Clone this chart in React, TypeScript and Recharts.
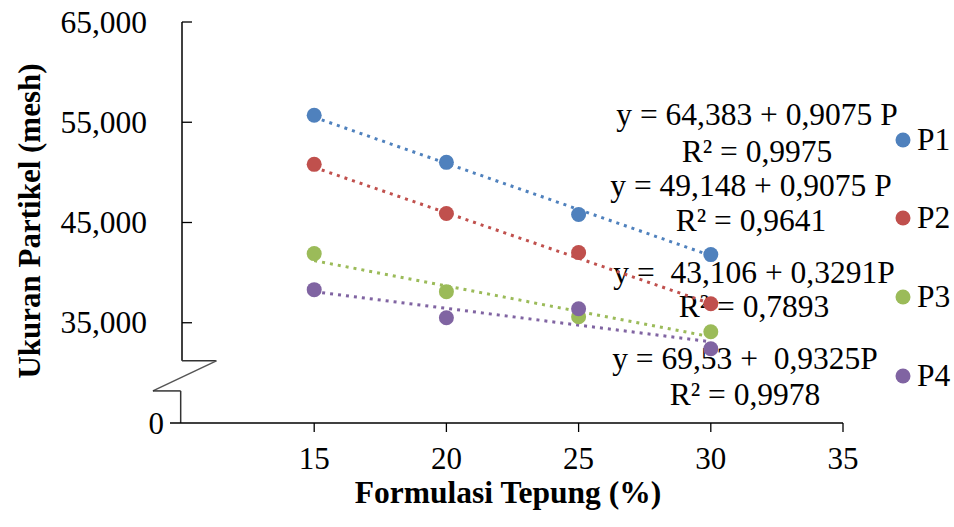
import {
  ComposedChart,
  Scatter,
  Line,
  XAxis,
  YAxis,
  ReferenceLine,
  Customized,
} from 'recharts';

// formulasi tepung (%)
const formulasi = [15, 20, 25, 30];
const p1 = [55.7, 51.0, 45.8, 41.8];
const p2 = [50.8, 45.9, 42.0, 36.9];
const p3 = [41.9, 38.1, 35.6, 34.1];
const p4 = [38.3, 35.5, 36.4, 32.4];

// trendline ends (at 15 and 30)
const trendX = [15, 30];
const t1 = [55.5, 41.7];
const t2 = [50.5, 36.9];
const t3 = [41.2, 33.6];
const t4 = [38.1, 33.1];

const xTicks = [15, 20, 25, 30, 35];
// broken axis: the floor 25 is shown as 0
const yBase = 25;
const yTicks = [25, 35, 45, 55, 65];

const seriesNames = ['P1', 'P2', 'P3', 'P4'];
const equations = [
  ['y = 64,383 + 0,9075 P', 'R² = 0,9975'],
  ['y = 49,148 + 0,9075 P', 'R² = 0,9641'],
  ['y =  43,106 + 0,3291P', 'R² = 0,7893'],
  ['y = 69,53 +  0,9325P', 'R² = 0,9978'],
];

const colors = ['#4F81BD', '#C0504D', '#9BBB59', '#8064A2'];
const FONT = '"Liberation Serif", "Times New Roman", serif';

const toPts = (ys: number[], xs: number[]) => ys.map((y, i) => ({ x: xs[i], y }));
const points = [p1, p2, p3, p4].map((s) => toPts(s, formulasi));
const trends = [t1, t2, t3, t4].map((s) => toPts(s, trendX));

const fmtY = (v: number) => (v === yBase ? '0' : v.toFixed(3).replace('.', ','));

function YTick(props: any) {
  const { x, y, payload } = props;
  const v = payload.value;
  if (v === yBase) {
    return (
      <g>
        <line x1={x - 12} x2={x} y1={y} y2={y} stroke="#000" strokeWidth={1.5} />
        <text x={x - 18} y={y} dy="0.34em" textAnchor="end" fontFamily={FONT} fontSize={31} fill="#000">
          {fmtY(v)}
        </text>
      </g>
    );
  }
  return (
    <g>
      <line x1={x} x2={x + 10} y1={y} y2={y} stroke="#000" strokeWidth={1.3} />
      <text x={x - 35} y={y} dy="0.34em" textAnchor="end" fontFamily={FONT} fontSize={31.5} fill="#000">
        {fmtY(v)}
      </text>
    </g>
  );
}

const eqX = [757, 751, 754, 745];
const eqY = [
  [125, 162],
  [196, 231],
  [283, 317],
  [369, 405],
];
const legY = [140, 218, 297, 376];

function Annotations() {
  return (
    <g fontFamily={FONT} fill="#000">
      {equations.map((lines, i) =>
        lines.map((t, j) => (
          <text
            key={`${i}-${j}`}
            x={eqX[i]}
            y={eqY[i][j]}
            textAnchor="middle"
            fontSize={31.5}
            style={{ whiteSpace: 'pre' }}
          >
            {t}
          </text>
        ))
      )}
      {seriesNames.map((n, i) => (
        <g key={n}>
          <circle cx={903} cy={legY[i]} r={7.5} fill={colors[i]} />
          <text x={917} y={legY[i] + 10} fontSize={31.5}>
            {n}
          </text>
        </g>
      ))}
      <text x={508} y={503} textAnchor="middle" fontSize={31.5} fontWeight="bold">
        Formulasi Tepung (%)
      </text>
      <text
        x={40}
        y={221}
        textAnchor="middle"
        fontSize={31}
        fontWeight="bold"
        transform="rotate(-90, 40, 221)"
      >
        Ukuran Partikel (mesh)
      </text>
    </g>
  );
}

export default function App() {
  return (
    <div style={{ position: 'absolute', left: 0, top: 0, background: '#fff' }}>
      <ComposedChart width={954} height={527} margin={{ top: 22, right: 111, bottom: 0, left: 0 }}>
        <XAxis
          type="number"
          dataKey="x"
          domain={[10, 35]}
          ticks={xTicks}
          height={104}
          tickSize={9}
          tickMargin={15}
          axisLine={{ stroke: '#000', strokeWidth: 1.5 }}
          tickLine={{ stroke: '#000', strokeWidth: 1.3 }}
          tick={{ fill: '#000', fontSize: 31, fontFamily: FONT }}
          allowDataOverflow
        />
        <YAxis
          type="number"
          dataKey="y"
          domain={[yBase, 65]}
          ticks={yTicks}
          width={182}
          tickSize={0}
          tickMargin={0}
          axisLine={false}
          tickLine={false}
          tick={YTick}
          allowDataOverflow
        />
        {/* y axis line and the break mark */}
        <ReferenceLine segment={[{ x: 10, y: 65 }, { x: 10, y: 31.2 }]} stroke="#000" strokeWidth={1.5} ifOverflow="visible" />
        <ReferenceLine segment={[{ x: 10, y: 31.2 }, { x: 11.3, y: 31.2 }]} stroke="#333" strokeWidth={1.5} ifOverflow="visible" />
        <ReferenceLine segment={[{ x: 11.3, y: 31.2 }, { x: 8.9, y: 28.2 }]} stroke="#555" strokeWidth={1.5} ifOverflow="visible" />
        <ReferenceLine segment={[{ x: 8.9, y: 28.2 }, { x: 9.95, y: 28.2 }]} stroke="#333" strokeWidth={1.5} ifOverflow="visible" />
        <ReferenceLine segment={[{ x: 9.95, y: 28.2 }, { x: 9.95, y: 25 }]} stroke="#333" strokeWidth={1.5} ifOverflow="visible" />
        {trends.map((d, i) => (
          <Line
            key={`t${i}`}
            data={d}
            dataKey="y"
            type="linear"
            stroke={colors[i]}
            strokeWidth={3}
            strokeDasharray="3 5"
            dot={false}
            activeDot={false}
            legendType="none"
            isAnimationActive={false}
          />
        ))}
        {points.map((d, i) => (
          <Scatter
            key={`s${i}`}
            name={seriesNames[i]}
            data={d}
            fill={colors[i]}
            shape={(p: any) => <circle cx={p.cx} cy={p.cy} r={7.5} fill={colors[i]} />}
            isAnimationActive={false}
          />
        ))}
        <Customized component={Annotations} />
      </ComposedChart>
    </div>
  );
}
